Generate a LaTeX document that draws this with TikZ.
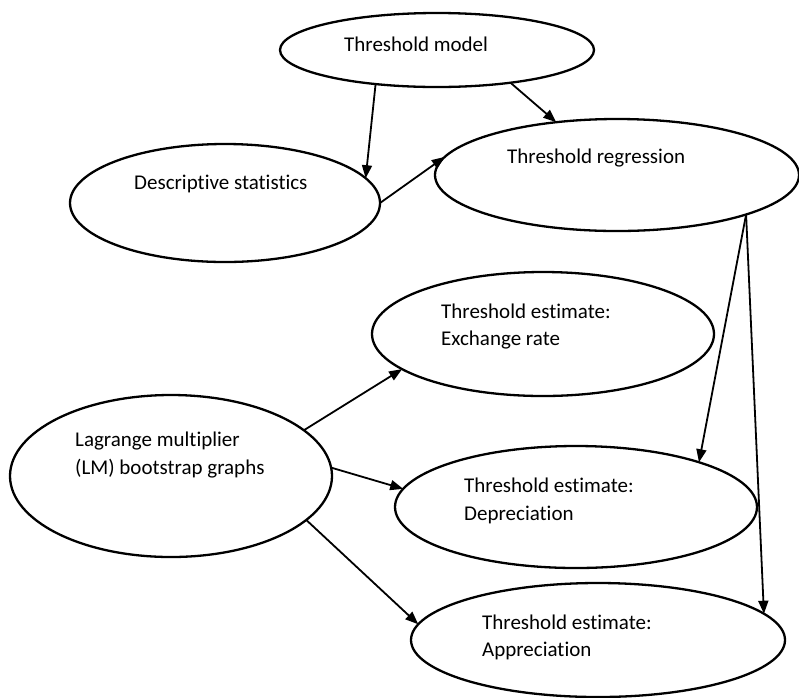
\documentclass[tikz,border=0pt]{standalone}
\usepackage{fontspec}
\setmainfont{Carlito}[Ligatures=NoCommon]
\usetikzlibrary{arrows.meta,shapes.geometric}

\begin{document}
\begin{tikzpicture}[x=1pt,y=-1pt,font=\fontsize{21}{27.5}\selectfont,
oval/.style={draw,ellipse,line width=2.3pt,inner sep=0pt,outer sep=0pt},
lbl/.style={anchor=base west,align=left,inner sep=0pt},
arr/.style={-{Triangle[length=13pt,width=10pt]},line width=1.8pt}]
\useasboundingbox (0,0) rectangle (799,697);
% ellipses
\node[oval,minimum width=314pt,minimum height=74pt] (model) at (437,50) {};
\node[oval,minimum width=364pt,minimum height=112pt] (reg) at (617,175) {};
\node[oval,minimum width=310pt,minimum height=118pt] (desc) at (225,203) {};
\node[oval,minimum width=342pt,minimum height=124pt] (exch) at (543,334) {};
\node[oval,minimum width=322pt,minimum height=162pt] (lm) at (171,476) {};
\node[oval,minimum width=362pt,minimum height=122pt] (depr) at (576,507) {};
\node[oval,minimum width=374pt,minimum height=114pt] (appr) at (598,640) {};
% texts (base = last line)
\node[lbl] (modeltxt) at (344,51.5) {Threshold model};
\node[lbl] (regtxt) at (507,163.5) {Threshold regression};
\node[lbl] (desctxt) at (134,189.5) {Descriptive statistics};
\node[lbl] (exchtxt) at (441,345.5) {Threshold estimate:\\Exchange rate};
\node[lbl] (lmtxt) at (75,474) {Lagrange multiplier\\(LM) bootstrap graphs};
\node[lbl] (deprtxt) at (464,520) {Threshold estimate:\\Depreciation};
\node[lbl] (apprtxt) at (482,656.5) {Threshold estimate:\\Appreciation};
% arrows
\draw[arr] (model.209)--(desc.10);
\draw[arr] (model.336)--(reg.139);
\draw[arr] (desc.0)--(reg.174);
\draw[arr] (reg.343)--(depr.20);
\draw[arr] (reg.343)--(appr.9);
\draw[arr] (lm.19)--(exch.194);
\draw[arr] (lm.3)--(depr.174);
\draw[arr] (lm.342)--(appr.175);
\end{tikzpicture}
\end{document}
